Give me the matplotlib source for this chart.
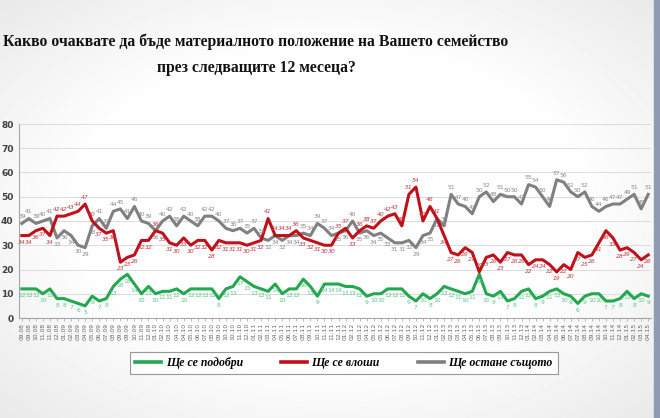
import numpy as np
import matplotlib.pyplot as plt

# ---- text ----
TITLE_1 = 'Какво очаквате да бъде материалното положение на Вашето семейство'
TITLE_2 = 'през следващите 12 месеца?'
SERIES_NAMES = ['Ще се подобри', 'Ще се влоши', 'Ще остане същото']

# ---- data ----
months = [
    '09.08', '09.08', '10.08', '11.08', '11.08', '12.08',
    '01.09', '02.09', '03.09', '04.09', '05.09', '06.09', '07.09', '08.09',
    '09.09', '09.09', '10.09', '11.09', '12.09',
    '01.10', '02.10', '03.10', '04.10', '04.10', '05.10', '06.10', '07.10',
    '08.10', '09.10', '10.10', '10.10', '11.10', '12.10',
    '01.11', '02.11', '03.11', '04.11', '05.11', '06.11', '07.11', '08.11',
    '09.11', '10.11', '11.11', '11.11', '12.11',
    '01.12', '02.12', '03.12', '04.12', '05.12', '05.12', '06.12', '07.12',
    '08.12', '09.12', '10.12', '11.12', '12.12',
    '01.13', '02.13', '02.13', '03.13', '04.13', '05.13', '06.13', '07.13',
    '08.13', '09.13', '10.13', '11.13', '12.13',
    '01.14', '02.14', '03.14', '04.14', '05.14', '06.14', '07.14', '07.14',
    '08.14', '09.14', '10.14', '10.14', '11.14', '12.14',
    '01.15', '02.15', '03.15', '04.15',
]

better = [
    12, 12, 12, 10, 12, 8, 8, 7, 6, 5,
    9, 7, 8, 13, 16, 18, 14, 10, 13, 10,
    11, 11, 12, 10, 12, 12, 12, 12, 8, 12,
    13, 17, 15, 13, 12, 11, 14, 10, 12, 12,
    16, 13, 9, 14, 14, 14, 13, 13, 12, 9,
    10, 10, 12, 12, 12, 9, 7, 10, 8, 10,
    13, 12, 11, 10, 11, 18, 10, 9, 11, 7,
    8, 11, 12, 8, 9, 11, 12, 10, 9, 6,
    9, 10, 10, 7, 7, 8, 11, 8, 10, 9,
]

worse = [
    34, 34, 36, 37, 34, 42, 42, 43, 44, 47,
    40, 37, 35, 36, 23, 25, 26, 32, 32, 36,
    35, 31, 30, 33, 30, 32, 32, 28, 32, 31,
    31, 31, 30, 31, 32, 41, 34, 34, 34, 36,
    33, 32, 31, 30, 30, 35, 37, 33, 36, 38,
    37, 40, 42, 43, 38, 51, 54, 40, 46, 41,
    34, 27, 26, 29, 27, 19, 25, 26, 23, 27,
    26, 26, 22, 24, 24, 22, 19, 22, 20, 27,
    25, 26, 31, 36, 33, 28, 29, 27, 24, 26,
]

same = [
    39, 41, 39, 40, 41, 33, 36, 34, 30, 29,
    38, 41, 37, 44, 45, 41, 46, 40, 39, 36,
    40, 42, 38, 42, 40, 38, 42, 42, 40, 37,
    36, 37, 35, 37, 33, 32, 34, 32, 34, 34,
    35, 34, 39, 37, 34, 35, 36, 40, 35, 36,
    34, 35, 33, 31, 31, 32, 29, 34, 35, 41,
    38, 51, 47, 46, 43, 50, 52, 48, 51, 50,
    50, 47, 55, 54, 50, 46, 57, 56, 52, 50,
    52, 46, 44, 46, 47, 47, 49, 51, 45, 51,
]

# ---- style ----
GREEN = '#22a84e'
RED = '#c0111b'
GREY = '#808080'
GREEN_TXT = '#5cc487'
RED_TXT = '#c0393f'
GREY_TXT = '#8a8a8a'

fig = plt.figure(figsize=(6.6, 4.18), dpi=100)

# slide background: white centre, light grey edges
bg = fig.add_axes([0, 0, 1, 1], zorder=-5)
gx, gy = np.meshgrid(np.linspace(-1, 1, 200), np.linspace(-1, 1, 130))
r = np.sqrt(gx ** 2 + gy ** 2)
shade = 1 - 0.13 * np.clip(r - 0.75, 0, 1)
bg.imshow(shade, cmap='gray', vmin=0, vmax=1, aspect='auto',
          extent=[0, 1, 0, 1], interpolation='bicubic')
bg.axvspan(0.991, 1.0, color='#8e9bb0')
bg.set_xlim(0, 1)
bg.set_ylim(0, 1)
bg.axis('off')

fig.text(0.388, 0.899, TITLE_1, ha='center', va='center', fontsize=11.3,
         fontweight='bold', family='Liberation Serif', color='#111111')
fig.text(0.388, 0.837, TITLE_2, ha='center', va='center', fontsize=11.3,
         fontweight='bold', family='Liberation Serif', color='#111111')

ax = fig.add_axes([19 / 660, 100 / 418, 632 / 660, 194 / 418])
ax.set_facecolor('none')
x = np.arange(len(months))

ax.plot(x, better, color=GREEN, lw=2.2, zorder=3, solid_joinstyle='round')
ax.plot(x, worse, color=RED, lw=2.2, zorder=4, solid_joinstyle='round')
ax.plot(x, same, color=GREY, lw=2.2, zorder=3, solid_joinstyle='round')

# value labels
lab_kw = dict(textcoords='offset points', ha='center', fontsize=4.3, zorder=5)
for i in x:
    ax.annotate(str(better[i]), (i, better[i]), xytext=(0, -3), va='top',
                color=GREEN_TXT, **lab_kw)
    red_up = worse[i] >= same[i] or worse[i] - better[i] < 7
    grey_up = not (worse[i] >= same[i])
    ax.annotate(str(worse[i]), (i, worse[i]), xytext=(0, 3 if red_up else -3),
                va='bottom' if red_up else 'top', color=RED_TXT,
                style='italic', **lab_kw)
    ax.annotate(str(same[i]), (i, same[i]), xytext=(0, 3 if grey_up else -3),
                va='bottom' if grey_up else 'top', color=GREY_TXT, **lab_kw)

ax.set_xlim(-0.4, len(months) - 0.6)
ax.set_ylim(0, 80)
ax.set_yticks(range(0, 81, 10))
ax.set_xticks(x)
ax.set_xticklabels(months, rotation=90, fontsize=4.3, color='#666666')
ax.tick_params(axis='y', labelsize=6.5, colors='#404040', length=0, pad=4)
ax.tick_params(axis='x', length=2, width=0.5, color='#a0a0a0', pad=1.5)
for lbl in ax.get_yticklabels():
    lbl.set_fontweight('bold')
ax.grid(axis='y', color='#dcdcdc', lw=0.7)
ax.set_axisbelow(True)
for side in ['top', 'right']:
    ax.spines[side].set_visible(False)
ax.spines['left'].set_color('#a6a6a6')
ax.spines['bottom'].set_color('#a6a6a6')
ax.spines['left'].set_linewidth(0.8)
ax.spines['bottom'].set_linewidth(0.8)

handles = [plt.Line2D([], [], color=c, lw=2.6) for c in (GREEN, RED, GREY)]
leg = fig.legend(handles, SERIES_NAMES, loc='center', ncol=3,
                 bbox_to_anchor=(0.521, 0.132), frameon=True, fancybox=False,
                 edgecolor='#808080', handlelength=2.2, columnspacing=3.2,
                 handletextpad=0.4, borderpad=0.45,
                 prop={'family': 'Liberation Serif', 'style': 'italic',
                       'weight': 'bold', 'size': 8.5})
leg.get_frame().set_linewidth(0.8)
leg.get_frame().set_facecolor('white')

fig.savefig('out.png', dpi=100)
